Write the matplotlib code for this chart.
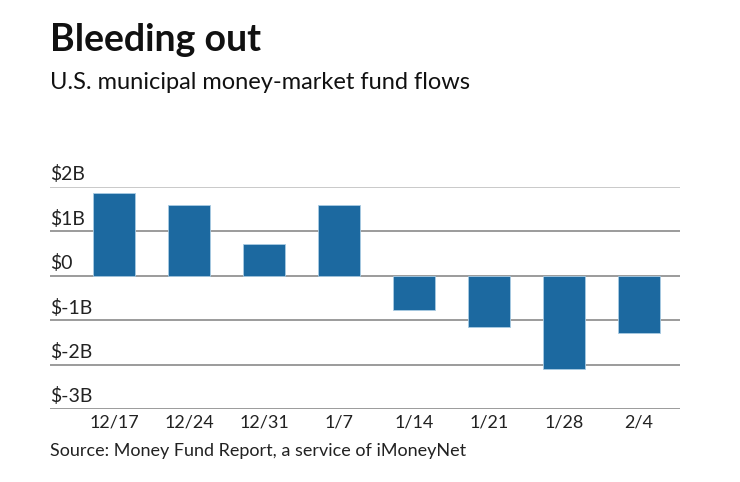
import matplotlib
matplotlib.use("Agg")
import matplotlib.pyplot as plt
import numpy as np

weeks = ["12/17", "12/24", "12/31", "1/7", "1/14", "1/21", "1/28", "2/4"]
flows = [1.86, 1.58, 0.71, 1.59, -0.78, -1.16, -2.10, -1.30]  # $B
y_ticks = [2, 1, 0, -1, -2, -3]
y_labels = ["$2B", "$1B", "$0", "$-1B", "$-2B", "$-3B"]

plt.rcParams["font.family"] = ["Lato", "DejaVu Sans"]

W, H = 740, 482
fig = plt.figure(figsize=(W / 100, H / 100), dpi=100)
ax = fig.add_axes([50 / W, 1 - 409 / H, 630 / W, (409 - 186.7) / H])

x = np.arange(len(weeks))
ax.bar(x, flows, width=0.56, color="#1c69a0", edgecolor="#a9cbe3",
       linewidth=0.6, zorder=3)

ax.set_xlim(-0.853, 7.547)
ax.set_ylim(-3, 2)
for t, lab in zip(y_ticks, y_labels):
    ax.axhline(t, color="#bbbbbb" if t == 2 else "#808080", lw=1.1, zorder=1)
    ax.text(0, t + 0.08, lab, transform=ax.get_yaxis_transform(),
            ha="left", va="bottom", fontsize=14, color="#222222")

ax.set_yticks([])
ax.set_xticks(x)
ax.set_xticklabels(weeks, fontsize=13, color="#222222")
ax.tick_params(axis="x", length=0, pad=4)
for s in ax.spines.values():
    s.set_visible(False)

fig.text(50 / W, 1 - 40 / H, "Bleeding out", fontsize=27, fontweight="bold",
         va="center", ha="left", color="#111111")
fig.text(50 / W, 1 - 82 / H, "U.S. municipal money-market fund flows",
         fontsize=17, va="center", ha="left", color="#111111")
fig.text(50 / W, 1 - 451 / H, "Source: Money Fund Report, a service of iMoneyNet",
         fontsize=13, va="center", ha="left", color="#222222")

fig.savefig("out.png", dpi=100, facecolor="white")
